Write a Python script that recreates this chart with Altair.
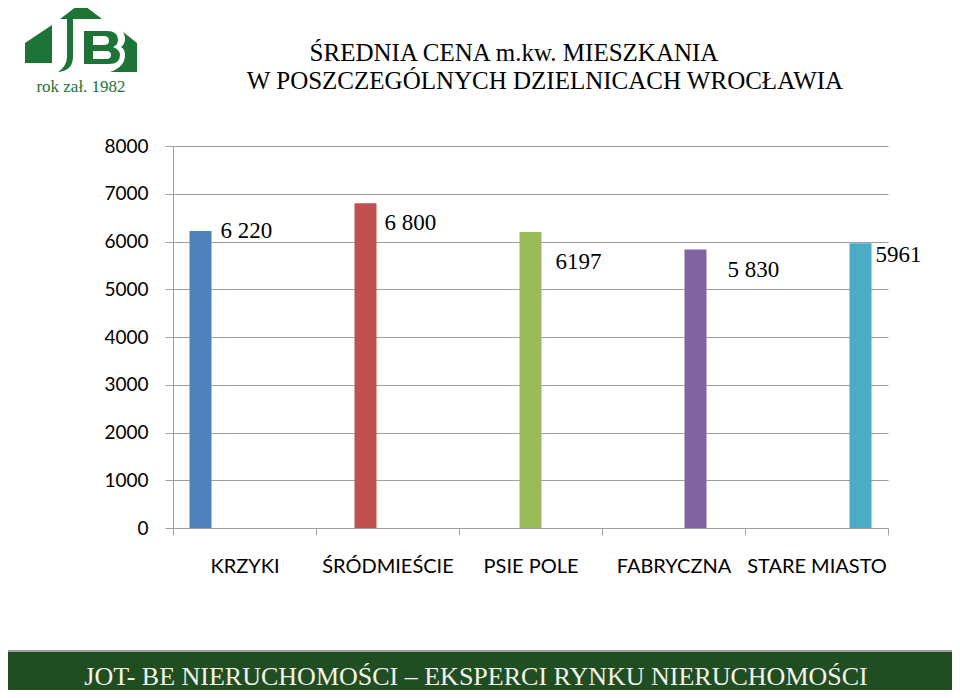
import re
import altair as alt
import pandas as pd

# ---- data ----
categories = ["KRZYKI", "ŚRÓDMIEŚCIE", "PSIE POLE", "FABRYCZNA", "STARE MIASTO"]
values = [6220, 6800, 6197, 5830, 5961]
value_labels = ["6 220", "6 800", "6197", "5 830", "5961"]
colors = ["#4F81BD", "#C0504D", "#9BBB59", "#8064A2", "#4BACC6"]
y_ticks = [0, 1000, 2000, 3000, 4000, 5000, 6000, 7000, 8000]

title_lines = ["ŚREDNIA CENA m.kw. MIESZKANIA", "W POSZCZEGÓLNYCH DZIELNICACH WROCŁAWIA"]
banner_text = "JOT- BE NIERUCHOMOŚCI  – EKSPERCI RYNKU NIERUCHOMOŚCI"
logo_caption = "rok zał. 1982"

df = pd.DataFrame({"cat": categories, "val": values, "lab": value_labels})

# label nudges (style): dx, dy in pixels
label_dx = [20, 19, 25, 32, 15]
label_dy = [0, 20, 30, 20, 12]

GRAY = "#a0a0a0"
LOGO_GREEN = "#1d7436"

x_enc = alt.X("cat:N", sort=categories,
              scale=alt.Scale(paddingInner=0, paddingOuter=0),
              axis=alt.Axis(title=None, tickBand="extent", labelAngle=0,
                            labelFont="Lato", labelFontSize=20, labelColor="black",
                            labelPadding=21, tickSize=7, tickColor=GRAY,
                            domainColor=GRAY, grid=False))
xoff_enc = alt.XOffset("cat:N", sort=categories,
                       scale=alt.Scale(paddingInner=0, paddingOuter=0.75))
y_enc = alt.Y("val:Q", scale=alt.Scale(domain=[0, 8000], nice=False),
              axis=alt.Axis(title=None, values=y_ticks, format="d",
                            labelFont="Lato", labelFontSize=19, labelColor="black",
                            labelPadding=17, tickSize=8, tickColor=GRAY,
                            domainColor=GRAY, gridColor=GRAY))

base = alt.Chart(df)
bars = base.mark_bar().encode(
    x=x_enc, xOffset=xoff_enc, y=y_enc,
    color=alt.Color("cat:N", scale=alt.Scale(domain=categories, range=colors), legend=None),
)

label_layers = []
for i, c in enumerate(categories):
    label_layers.append(
        base.transform_filter(alt.datum.cat == c).mark_text(
            font="Liberation Serif", fontSize=23, color="black", align="left",
            baseline="middle", dx=label_dx[i], dy=label_dy[i]
        ).encode(x=alt.X("cat:N", sort=categories), xOffset=alt.XOffset("cat:N", sort=categories),
                 y=alt.Y("val:Q"), text="lab:N")
    )

one = alt.Data(values=[{"a": 1}])

title1 = alt.Chart(one).mark_text(font="Liberation Serif", fontSize=25, color="black",
                                  align="center", baseline="alphabetic").encode(
    x=alt.value(341), y=alt.value(61 - 146), text=alt.value(title_lines[0]))
title2 = alt.Chart(one).mark_text(font="Liberation Serif", fontSize=25, color="black",
                                  align="center", baseline="alphabetic").encode(
    x=alt.value(372), y=alt.value(89 - 146), text=alt.value(title_lines[1]))

banner = alt.Chart(one).mark_rect(fill="#214d22", stroke=GRAY, strokeWidth=2).encode(
    x=alt.value(-171), x2=alt.value(785), y=alt.value(505), y2=alt.value(551))
banner_t = alt.Chart(one).mark_text(font="Liberation Serif", fontSize=26, color="#f4f4ea",
                                    align="center", baseline="alphabetic").encode(
    x=alt.value(303), y=alt.value(539), text=alt.value(banner_text))

# ---- logo (custom symbol path, defined in page pixels then normalised) ----
logo_path_px = (
    "M60,19 L81,3 L102,19 Z "
    "M25,43 L52,25 L52,63 L25,63 Z "
    "M67,19 L73,19 L73,58 Q72,71 58,72 Q67,66 67,57 Z "
    "M84,31 L107,31 Q118,31 118,40 Q118,45 113,47 Q120,50 120,55 Q120,64 109,64 L84,64 Z "
    "M93,36 L93,45 L104,45 Q109,45 109,41 Q109,36 104,36 Z "
    "M93,51 L93,59 L106,59 Q111,59 111,55 Q111,51 106,51 Z "
    "M122,31 L137,43 L137,72 L110,72 Q125,67 125,55 Q125,49 121,47 Q125,44 125,39 Q125,34 122,31 Z"
)


def norm_path(d, cx, cy, r):
    out, is_x = [], True
    for t in re.findall(r"[MLQZ]|-?\d+\.?\d*", d):
        if t.isalpha():
            out.append(t)
            continue
        v = float(t)
        out.append(f"{(v - cx) / r:.4f}" if is_x else f"{(v - cy) / r:.4f}")
        is_x = not is_x
    return " ".join(out)


LR = 57
logo_shape = norm_path(logo_path_px, 81, 38, LR)
logo = alt.Chart(one).mark_point(shape=logo_shape, filled=True, fill=LOGO_GREEN,
                                 strokeWidth=0, opacity=1, size=(2 * LR) ** 2).encode(
    x=alt.value(81 - 173), y=alt.value(38 - 146))
logo_t = alt.Chart(one).mark_text(font="Liberation Serif", fontSize=17, color=LOGO_GREEN,
                                  align="center", baseline="alphabetic").encode(
    x=alt.value(81 - 173), y=alt.value(92 - 146), text=alt.value(logo_caption))

chart = alt.layer(bars, *label_layers, title1, title2, banner, banner_t, logo, logo_t).properties(
    width=715, height=382,
    padding={"left": 165, "top": 138, "right": 64, "bottom": 162},
    autosize=alt.AutoSizeParams(type="none"),
    background="white",
).configure_view(stroke=None)

chart.save("out.html", embed_options={"renderer": "svg", "actions": False})
